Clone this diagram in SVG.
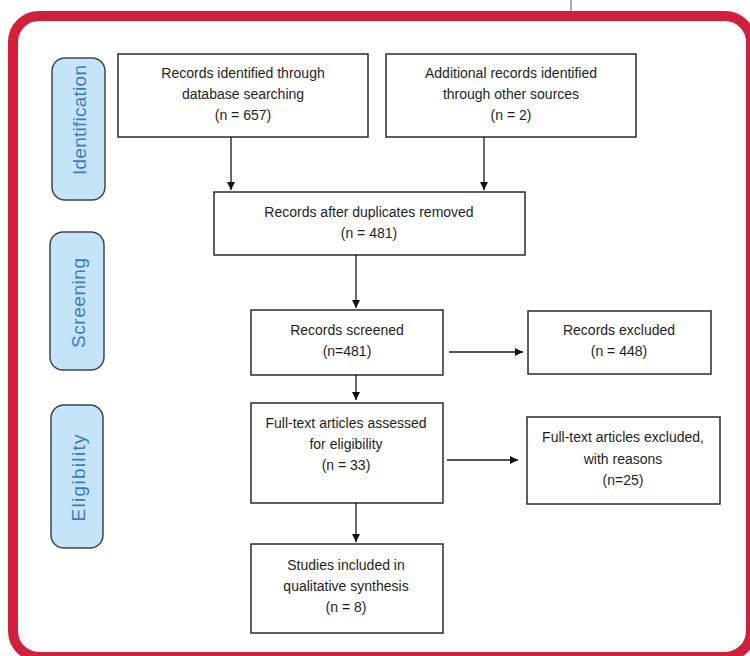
<svg xmlns="http://www.w3.org/2000/svg" width="750" height="656" viewBox="0 0 750 656">
  <defs>
    <marker id="ah" viewBox="0 0 10 10" refX="10" refY="5" markerWidth="8" markerHeight="8" markerUnits="userSpaceOnUse" orient="auto">
      <path d="M0,0 L10,5 L0,10 z" fill="#111"/>
    </marker>
    <style>
      .box { fill: #ffffff; stroke: #2b2b2b; stroke-width: 1.5; }
      .phase { fill: #c6e4f7; stroke: #3d4650; stroke-width: 1.5; }
      .t { font-family: "Liberation Sans", Arial, sans-serif; font-size: 14px; fill: #1e1e1e; text-anchor: middle; }
      .pt { font-family: "Liberation Sans", Arial, sans-serif; font-size: 19px; fill: #3a7bc8; text-anchor: middle; dominant-baseline: central; }
      .conn { stroke: #1a1a1a; stroke-width: 1.3; fill: none; marker-end: url(#ah); }
    </style>
  </defs>
  <rect width="750" height="656" fill="#ffffff"/>
  <line x1="571" y1="0" x2="571" y2="12" stroke="#555" stroke-width="1"/>
  <rect x="13" y="16" width="738" height="641" rx="26" ry="26" fill="none" stroke="#d21f3c" stroke-width="10"/>

  <g id="phase-identification">
    <rect class="phase" x="52" y="58" width="53" height="142" rx="13" ry="13"/>
    <text class="pt" transform="translate(79,120) rotate(-90)" textLength="110">Identification</text>
  </g>
  <g id="phase-screening">
    <rect class="phase" x="50" y="232" width="54" height="138" rx="13" ry="13"/>
    <text class="pt" transform="translate(78,303) rotate(-90)" textLength="90">Screening</text>
  </g>
  <g id="phase-eligibility">
    <rect class="phase" x="51" y="405" width="52" height="143" rx="13" ry="13"/>
    <text class="pt" transform="translate(78,478) rotate(-90)" textLength="87">Eligibility</text>
  </g>

  <g id="n-db">
    <rect class="box" x="118" y="54" width="250" height="83"/>
    <text class="t" x="243" y="78">Records identified through</text>
    <text class="t" x="243" y="99">database searching</text>
    <text class="t" x="243" y="120">(n = 657)</text>
  </g>
  <g id="n-other">
    <rect class="box" x="386" y="54" width="250" height="83"/>
    <text class="t" x="511" y="78">Additional records identified</text>
    <text class="t" x="511" y="99">through other sources</text>
    <text class="t" x="511" y="120">(n = 2)</text>
  </g>
  <g id="n-dedup">
    <rect class="box" x="214" y="192" width="311" height="63"/>
    <text class="t" x="369" y="217">Records after duplicates removed</text>
    <text class="t" x="369" y="238">(n = 481)</text>
  </g>
  <g id="n-screened">
    <rect class="box" x="251" y="310" width="192" height="65"/>
    <text class="t" x="347" y="335">Records screened</text>
    <text class="t" x="347" y="356">(n=481)</text>
  </g>
  <g id="n-excluded">
    <rect class="box" x="528" y="311" width="183" height="63"/>
    <text class="t" x="619" y="335">Records excluded</text>
    <text class="t" x="619" y="356">(n = 448)</text>
  </g>
  <g id="n-fulltext">
    <rect class="box" x="251" y="403" width="192" height="100"/>
    <text class="t" x="346" y="428">Full-text articles assessed</text>
    <text class="t" x="346" y="449">for eligibility</text>
    <text class="t" x="346" y="470">(n = 33)</text>
  </g>
  <g id="n-ftexcluded">
    <rect class="box" x="527" y="417" width="193" height="87"/>
    <text class="t" x="623" y="442">Full-text articles excluded,</text>
    <text class="t" x="623" y="464">with reasons</text>
    <text class="t" x="623" y="485">(n=25)</text>
  </g>
  <g id="n-included">
    <rect class="box" x="251" y="544" width="192" height="89"/>
    <text class="t" x="346" y="570">Studies included in</text>
    <text class="t" x="346" y="591">qualitative synthesis</text>
    <text class="t" x="346" y="612">(n = 8)</text>
  </g>

  <g id="connectors">
    <line class="conn" x1="231" y1="137" x2="231" y2="190"/>
    <line class="conn" x1="484" y1="137" x2="484" y2="190"/>
    <line class="conn" x1="356" y1="255" x2="356" y2="308"/>
    <line class="conn" x1="449" y1="352" x2="523" y2="352"/>
    <line class="conn" x1="356" y1="375" x2="356" y2="400"/>
    <line class="conn" x1="447" y1="460" x2="518" y2="460"/>
    <line class="conn" x1="356" y1="503" x2="356" y2="542"/>
  </g>
</svg>
